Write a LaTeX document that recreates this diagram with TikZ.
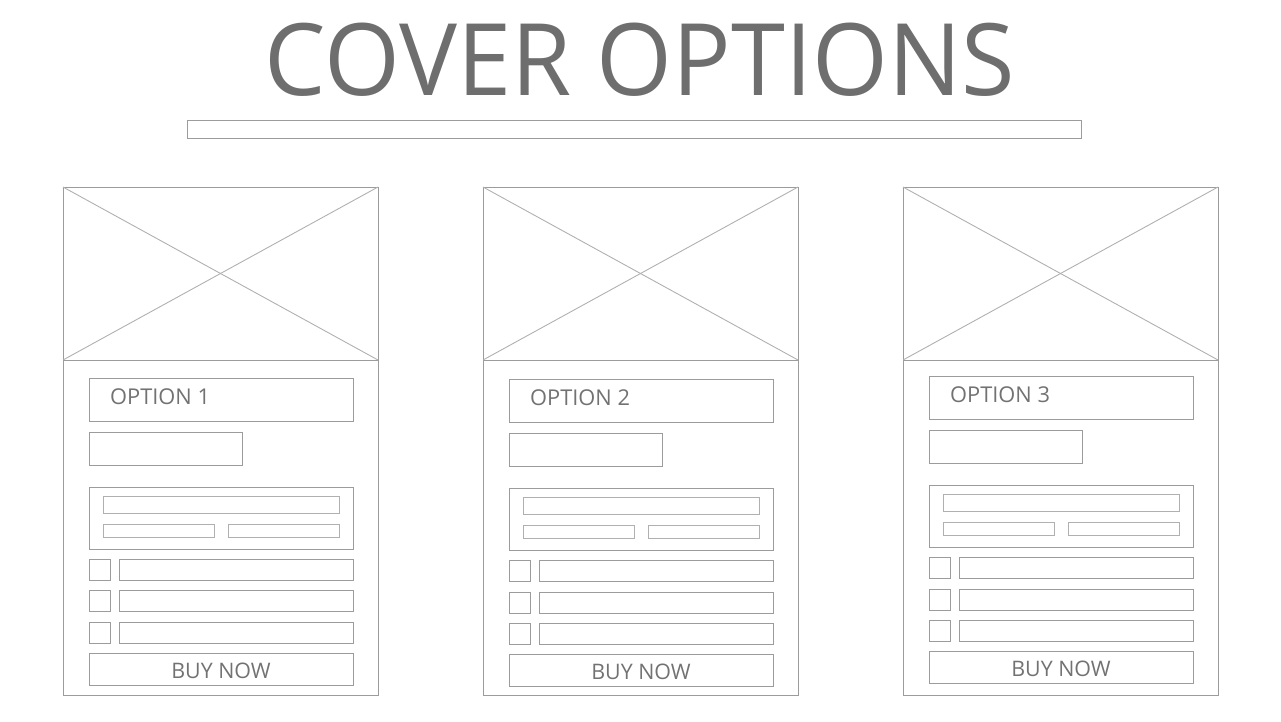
\documentclass[tikz,border=0pt]{standalone}
\usepackage{fontspec}
\setmainfont{Open Sans}
\definecolor{inkgray}{HTML}{6E6E6E}
\definecolor{labelgray}{HTML}{727272}
\definecolor{linegray}{HTML}{9C9C9C}
\definecolor{softgray}{HTML}{B0B0B0}
\tikzset{
  wire/.style={draw=linegray, line width=1pt, inner sep=0pt, outer sep=0pt,
    anchor=north west, fill=none},
  softwire/.style={wire, draw=softgray},
  sized/.style 2 args={minimum width=#1pt, minimum height=#2pt},
  cross/.style={draw=softgray, line width=0.9pt},
  label/.style={inner sep=0pt, text=labelgray, font=\fontsize{21.8}{24}\selectfont},
}
\begin{document}
\begin{tikzpicture}[x=1pt, y=-1pt]
\useasboundingbox (0,0) rectangle (1281,721);

% heading and the bar beneath it
\node[inner sep=0pt, anchor=base, text=inkgray, xscale=0.974,
      font=\fontsize{100}{110}\selectfont] (heading) at (640,95) {COVER OPTIONS};
\node[wire, sized={894}{18}] (headbar) at (187,120) {};

% three product cards
\foreach \i/\dx/\dy in {1/0/0, 2/420/1.5, 3/840/-1.5}{
  \begin{scope}[shift={(\dx,0)}]
    \node[wire, sized={315}{508}] (card\i) at (63,187) {};
    \node[wire, sized={315}{173}] (img\i) at (63,187) {};
    \draw[cross] (img\i.north west) -- (img\i.south east);
    \draw[cross] (img\i.south west) -- (img\i.north east);
  \end{scope}
  \begin{scope}[shift={(\dx,\dy)}]
    \node[wire, sized={264}{43}] (title\i) at (89,378) {};
    \node[label, anchor=base west] (opt\i) at (110,404) {OPTION \i};
    \node[wire, sized={153}{33}] (price\i) at (89,432) {};
    \node[wire, sized={264}{62}] (group\i) at (89,487) {};
    \node[softwire, sized={236}{17}] (field\i) at (103,496) {};
    \node[softwire, sized={111}{13}] (fieldl\i) at (103,524) {};
    \node[softwire, sized={111}{13}] (fieldr\i) at (228,524) {};
    \foreach \r/\ry in {a/559, b/590.5, c/622}{
      \node[wire, sized={21}{21}] (check\i\r) at (89,\ry) {};
      \node[wire, sized={234}{21}] (bar\i\r) at (119,\ry) {};
    }
    \node[wire, sized={264}{32}] (buy\i) at (89,653) {};
    \node[label, anchor=base, font=\fontsize{21.4}{23}\selectfont] (buytext\i) at (221,678) {BUY NOW};
  \end{scope}
}
\end{tikzpicture}
\end{document}
